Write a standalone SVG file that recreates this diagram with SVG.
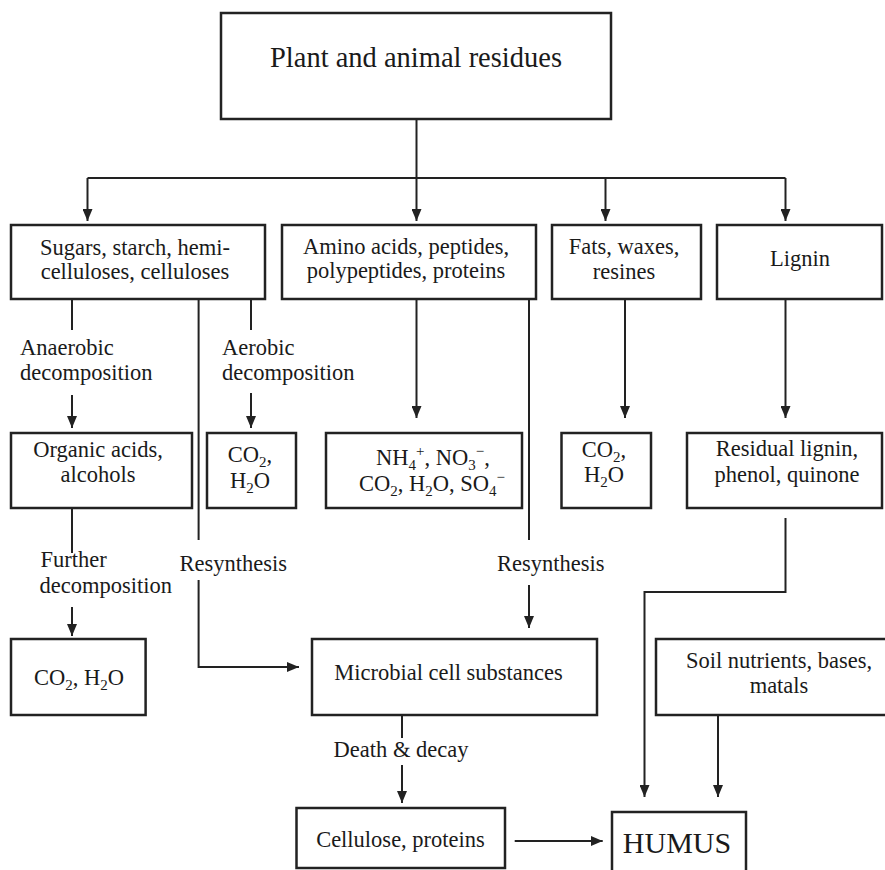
<svg xmlns="http://www.w3.org/2000/svg" width="885" height="870" viewBox="0 0 885 870">
<style>
.box{fill:#fff;stroke:#222;stroke-width:2.5}
.ln{fill:none;stroke:#222;stroke-width:2}
text{font-family:"Liberation Serif","Times New Roman",serif;font-size:22.5px;fill:#1a1a1a}
.c{text-anchor:middle}
.s{font-size:15px}
</style>
<defs>
<marker id="ah" markerUnits="userSpaceOnUse" markerWidth="12" markerHeight="10" refX="12" refY="5" viewBox="0 0 12 10" orient="auto">
<path d="M0,0 L12,5 L0,10 z" fill="#222"/>
</marker>
</defs>
<rect width="885" height="870" fill="#fff"/>
<g id="connectors">
<line class="ln" x1="416.5" y1="119" x2="416.5" y2="178"/>
<line class="ln" x1="87.5" y1="178" x2="785.5" y2="178"/>
<line class="ln" x1="87.5" y1="178" x2="87.5" y2="221" marker-end="url(#ah)"/>
<line class="ln" x1="416.5" y1="178" x2="416.5" y2="221" marker-end="url(#ah)"/>
<line class="ln" x1="605.5" y1="178" x2="605.5" y2="221" marker-end="url(#ah)"/>
<line class="ln" x1="785.5" y1="178" x2="785.5" y2="221" marker-end="url(#ah)"/>
<line class="ln" x1="72" y1="299" x2="72" y2="330"/>
<line class="ln" x1="72" y1="395" x2="72" y2="428" marker-end="url(#ah)"/>
<line class="ln" x1="198.6" y1="299" x2="198.6" y2="540"/>
<path class="ln" d="M198.6,580 L198.6,667 L299,667" marker-end="url(#ah)"/>
<line class="ln" x1="251" y1="299" x2="251" y2="330"/>
<line class="ln" x1="251" y1="393" x2="251" y2="428" marker-end="url(#ah)"/>
<line class="ln" x1="416.5" y1="299" x2="416.5" y2="418" marker-end="url(#ah)"/>
<line class="ln" x1="529" y1="299" x2="529" y2="540"/>
<line class="ln" x1="529" y1="585" x2="529" y2="628" marker-end="url(#ah)"/>
<line class="ln" x1="625" y1="299" x2="625" y2="418" marker-end="url(#ah)"/>
<line class="ln" x1="785.5" y1="299" x2="785.5" y2="418" marker-end="url(#ah)"/>
<line class="ln" x1="72" y1="508" x2="72" y2="553"/>
<line class="ln" x1="72" y1="607" x2="72" y2="636" marker-end="url(#ah)"/>
<path class="ln" d="M785.5,518 L785.5,592 L644.5,592 L644.5,797" marker-end="url(#ah)"/>
<line class="ln" x1="402" y1="715" x2="402" y2="738"/>
<line class="ln" x1="402" y1="765" x2="402" y2="803" marker-end="url(#ah)"/>
<line class="ln" x1="718" y1="715" x2="718" y2="797" marker-end="url(#ah)"/>
<line class="ln" x1="514.7" y1="841" x2="602.7" y2="841" marker-end="url(#ah)"/>
<text x="20" y="355">Anaerobic</text>
<text x="20" y="380">decomposition</text>
<text x="222" y="355">Aerobic</text>
<text x="222" y="380">decomposition</text>
<text x="40.6" y="567">Further</text>
<text x="39.5" y="593">decomposition</text>
<text x="179.5" y="571">Resynthesis</text>
<text x="497" y="571">Resynthesis</text>
<text class="c" x="401" y="757">Death &amp; decay</text>
</g>
<g id="n-residues">
<rect class="box" x="221" y="13" width="390" height="106"/>
<text class="c" x="416" y="67" style="font-size:28.5px">Plant and animal residues</text>
</g>
<g id="n-sugars">
<rect class="box" x="11" y="225" width="254" height="74"/>
<text class="c" x="135" y="255">Sugars, starch, hemi-</text>
<text class="c" x="135" y="279">celluloses, celluloses</text>
</g>
<g id="n-amino">
<rect class="box" x="282" y="225" width="254" height="74"/>
<text class="c" x="406" y="254">Amino acids, peptides,</text>
<text class="c" x="406" y="278">polypeptides, proteins</text>
</g>
<g id="n-fats">
<rect class="box" x="552" y="225" width="149" height="74"/>
<text class="c" x="624" y="254">Fats, waxes,</text>
<text class="c" x="624" y="279">resines</text>
</g>
<g id="n-lignin">
<rect class="box" x="717" y="225" width="165" height="74"/>
<text class="c" x="800" y="266">Lignin</text>
</g>
<g id="n-organic">
<rect class="box" x="11" y="433" width="181" height="75"/>
<text class="c" x="98" y="457">Organic acids,</text>
<text class="c" x="98" y="482">alcohols</text>
</g>
<g id="n-co2-aerobic">
<rect class="box" x="207" y="433" width="89" height="75"/>
<text class="c" x="250" y="462">CO<tspan class="s" dy="5">2</tspan><tspan dy="-5">,</tspan></text>
<text class="c" x="250" y="488">H<tspan class="s" dy="5">2</tspan><tspan dy="-5">O</tspan></text>
</g>
<g id="n-ammonium">
<rect class="box" x="326" y="433" width="196" height="75"/>
<text class="c" x="433" y="465">NH<tspan class="s" dy="5">4</tspan><tspan class="s" dy="-14">+</tspan><tspan dy="9">, NO</tspan><tspan class="s" dy="5">3</tspan><tspan class="s" dy="-14">−</tspan><tspan dy="9">,</tspan></text>
<text class="c" x="432" y="491">CO<tspan class="s" dy="5">2</tspan><tspan dy="-5">, H</tspan><tspan class="s" dy="5">2</tspan><tspan dy="-5">O, SO</tspan><tspan class="s" dy="5">4</tspan><tspan class="s" dy="-14">−</tspan></text>
</g>
<g id="n-co2-fats">
<rect class="box" x="561.5" y="433" width="89.5" height="75"/>
<text class="c" x="604" y="457">CO<tspan class="s" dy="5">2</tspan><tspan dy="-5">,</tspan></text>
<text class="c" x="604" y="482">H<tspan class="s" dy="5">2</tspan><tspan dy="-5">O</tspan></text>
</g>
<g id="n-residual">
<rect class="box" x="687" y="433" width="195" height="75"/>
<text class="c" x="787" y="456">Residual lignin,</text>
<text class="c" x="787" y="482">phenol, quinone</text>
</g>
<g id="n-co2-final">
<rect class="box" x="11" y="639" width="134.6" height="76"/>
<text class="c" x="79" y="685">CO<tspan class="s" dy="5">2</tspan><tspan dy="-5">, H</tspan><tspan class="s" dy="5">2</tspan><tspan dy="-5">O</tspan></text>
</g>
<g id="n-microbial">
<rect class="box" x="312" y="639" width="285" height="76"/>
<text class="c" x="448.5" y="680">Microbial cell substances</text>
</g>
<g id="n-soil">
<rect class="box" x="656" y="639" width="240" height="76"/>
<text class="c" x="779" y="668">Soil nutrients, bases,</text>
<text class="c" x="779" y="693">matals</text>
</g>
<g id="n-cellulose">
<rect class="box" x="296.5" y="808" width="208.5" height="60"/>
<text class="c" x="400.5" y="847">Cellulose, proteins</text>
</g>
<g id="n-humus">
<rect class="box" x="612" y="812" width="134" height="70"/>
<text class="c" x="677" y="853" style="font-size:30px">HUMUS</text>
</g>
</svg>
